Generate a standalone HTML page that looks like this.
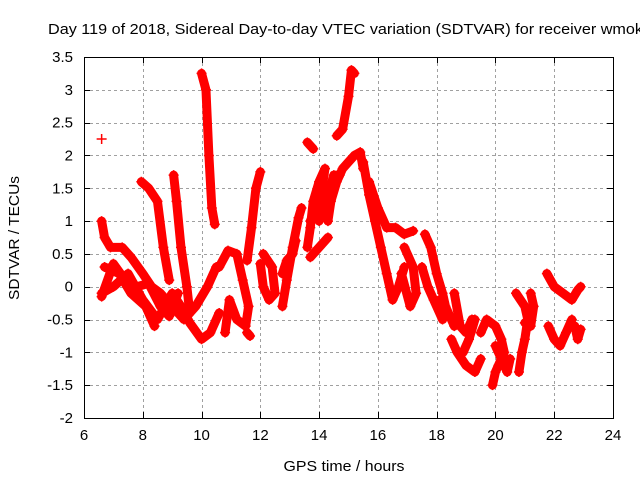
<!DOCTYPE html>
<html><head><meta charset="utf-8">
<style>
html,body{margin:0;padding:0;background:#fff;}
svg{display:block;font-family:"Liberation Sans",sans-serif;}
</style></head>
<body>
<svg id="chart" width="640" height="480" viewBox="0 0 640 480" xmlns="http://www.w3.org/2000/svg">
<rect x="0" y="0" width="640" height="480" fill="#fff"/>
<g id="grid"></g>
<g id="ticks"></g>
<g id="marks"></g>
<rect x="84.5" y="57.5" width="529" height="361" fill="none" stroke="#000" stroke-width="1"/>
<text x="48" y="34" font-size="15" textLength="595" lengthAdjust="spacingAndGlyphs" fill="#000">Day 119 of 2018, Sidereal Day-to-day VTEC variation (SDTVAR) for receiver wmok</text>
<text x="344" y="471" font-size="15" textLength="121" lengthAdjust="spacingAndGlyphs" text-anchor="middle">GPS time / hours</text>
<text x="19" y="238" font-size="15" textLength="124" lengthAdjust="spacingAndGlyphs" text-anchor="middle" transform="rotate(-90 19 238)">SDTVAR / TECUs</text>
</svg>
<script>
const xTicks=[6,8,10,12,14,16,18,20,22,24];
const yTicks=[-2,-1.5,-1,-0.5,0,0.5,1,1.5,2,2.5,3,3.5];
const yTickLabels=["-2","-1.5","-1","-0.5","0","0.5","1","1.5","2","2.5","3","3.5"];
const outlier=[[6.6,2.25]];
const track1=[[7.95,1.6],[8.2,1.5],[8.5,1.3],[8.7,0.6],[8.9,0.1]];
const track2=[[9.05,1.7],[9.15,1.3],[9.3,0.6],[9.5,0],[9.6,-0.4]];
const track3=[[10.0,3.25],[10.15,3.0],[10.25,2.0],[10.35,1.2],[10.45,0.95]];
const track4=[[11.55,0.4],[11.7,0.9],[11.85,1.5],[12.0,1.75]];
const track5=[[6.6,1.0],[6.7,0.75],[6.9,0.6],[7.3,0.6],[7.6,0.45],[8.0,0.2],[8.3,0.0],[8.6,-0.1],[9.0,-0.3],[9.4,-0.5],[9.8,-0.3],[10.2,0.0],[10.5,0.3]];
const track6=[[6.6,-0.1],[7.0,0],[7.5,0.2],[8.0,-0.2],[8.5,-0.5],[9.0,-0.1],[9.3,-0.3],[9.6,-0.55],[10.0,-0.8],[10.3,-0.7],[10.6,-0.4]];
const track7=[[6.7,0.3],[7.2,0.2],[7.6,-0.1],[8.1,-0.3],[8.4,-0.6]];
const track7b=[[6.6,-0.15],[7.0,0.35],[7.4,0.1],[7.8,0.0],[8.2,0.05],[8.6,-0.3],[8.9,-0.45],[9.2,-0.1]];
const track8=[[10.6,0.3],[10.9,0.55],[11.2,0.5],[11.4,0.1],[11.6,-0.3],[11.5,-0.6],[11.2,-0.5],[10.95,-0.2],[10.8,-0.7]];
const track9=[[11.55,-0.7],[11.65,-0.75]];
const track10=[[12.1,0.5],[12.4,0.3],[12.5,-0.1],[12.3,-0.2],[12.1,0.0],[12.0,0.35]];
const track11=[[12.75,-0.3],[12.9,0.1],[13.1,0.6],[13.3,1.05],[13.4,1.2]];
const track12=[[12.75,0.2],[12.9,0.4],[13.1,0.5],[13.2,0.7]];
const track13=[[13.6,0.6],[13.7,0.9],[13.8,1.3],[14.0,1.6],[14.2,1.8],[14.1,1.5],[13.9,1.2],[13.7,1.0]];
const track14=[[13.6,2.2],[13.8,2.1]];
const track15=[[13.7,0.45],[14.0,0.6],[14.3,0.75]];
const track16=[[14.3,1.0],[14.4,1.3],[14.6,1.6],[14.8,1.8],[15.0,1.9],[15.2,2.0],[15.4,2.05],[15.5,1.8]];
const track17=[[14.0,1.0],[14.3,1.4],[14.5,1.7],[14.7,1.7]];
const track18=[[14.6,2.3],[14.8,2.4],[15.0,2.9],[15.1,3.3],[15.2,3.25]];
const track19=[[15.5,1.9],[15.7,1.4],[15.9,1.0],[16.1,0.6],[16.3,0.2],[16.5,-0.2],[16.7,0.0],[16.9,0.3]];
const track20=[[15.7,1.6],[16.0,1.2],[16.3,0.9],[16.6,0.9],[16.9,0.8],[17.2,0.85]];
const track21=[[16.9,0.6],[17.2,0.3],[17.3,-0.1],[17.1,-0.3],[16.8,0.2]];
const track22=[[17.6,0.8],[17.8,0.6],[18.0,0.2],[18.2,-0.1],[18.3,-0.3],[18.5,-0.5],[18.6,-0.6]];
const track23=[[17.5,0.3],[17.7,0.0],[17.9,-0.2],[18.2,-0.5],[18.1,-0.2]];
const track24=[[18.6,-0.1],[18.8,-0.6],[19.0,-0.7],[19.2,-0.5],[19.3,-0.5],[19.1,-0.8],[18.9,-1.0]];
const track25=[[18.5,-0.8],[18.7,-1.0],[19.0,-1.2],[19.3,-1.3],[19.5,-1.1]];
const track26=[[19.5,-0.7],[19.7,-0.5],[20.0,-0.6],[20.2,-0.8],[20.3,-1.0],[20.1,-1.2],[20.0,-1.3],[19.9,-1.5]];
const track27=[[20.0,-0.9],[20.2,-1.1],[20.4,-1.3],[20.5,-1.1]];
const track28=[[20.7,-0.1],[21.0,-0.3],[21.1,-0.5],[21.0,-0.8],[20.9,-1.0],[20.8,-1.3]];
const track29=[[21.2,-0.1],[21.3,-0.3],[21.2,-0.6],[21.0,-0.55]];
const track30=[[21.75,0.2],[22.0,0.0],[22.3,-0.1],[22.6,-0.2],[22.8,-0.05],[22.9,0.0]];
const track31=[[21.8,-0.6],[22.0,-0.8],[22.2,-0.9],[22.4,-0.7],[22.6,-0.5]];
const track32=[[22.7,-0.6],[22.8,-0.8],[22.9,-0.65]];
const tracks=[outlier,track1,track2,track3,track4,track5,track6,track7,track7b,track8,track9,track10,track11,track12,track13,track14,track15,track16,track17,track18,track19,track20,track21,track22,track23,track24,track25,track26,track27,track28,track29,track30,track31,track32];

const X0=84,X1=613,Y0=418,Y1=57,XMIN=6,XMAX=24,YMIN=-2,YMAX=3.5;
function xs(t){return X0+(t-XMIN)/(XMAX-XMIN)*(X1-X0);}
function ys(v){return Y0-(v-YMIN)/(YMAX-YMIN)*(Y0-Y1);}
const NS="http://www.w3.org/2000/svg";
function mk(tag,attrs,parent){const e=document.createElementNS(NS,tag);for(const k in attrs)e.setAttribute(k,attrs[k]);parent.appendChild(e);return e;}
const grid=document.getElementById('grid'),ticks=document.getElementById('ticks'),marks=document.getElementById('marks');
xTicks.forEach(t=>{
  const x=Math.round(xs(t))+0.5;
  if(t>XMIN&&t<XMAX){
    const g=mk('line',{x1:x,x2:x,y1:Y1,y2:Y0,stroke:'#a0a0a0','stroke-dasharray':'3,3'},grid);
    
    
  }
  const tk=mk('path',{d:`M${x} ${Y0}v-6M${x} ${Y1}v6`,stroke:'#000'},ticks);
  
  
  const lb=mk('text',{x:xs(t),y:Y0+22,'font-size':15,'text-anchor':'middle'},ticks);
  lb.textContent=String(t);
  
  
});
yTicks.forEach((v,i)=>{
  const y=Math.round(ys(v))+0.5;
  if(v>YMIN&&v<YMAX){
    const g=mk('line',{x1:X0,x2:X1,y1:y,y2:y,stroke:'#a0a0a0','stroke-dasharray':'3,3'},grid);
    
    
  }
  const tk=mk('path',{d:`M${X0} ${y}h6M${X1} ${y}h-6`,stroke:'#000'},ticks);
  
  
  const lb=mk('text',{x:X0-11,y:ys(v)+5,'font-size':15,'text-anchor':'end'},ticks);
  lb.textContent=yTickLabels[i];
  
  
});
tracks.forEach(tr=>{
  if(tr.length>1){
    const pl=mk('polyline',{points:tr.map(p=>xs(p[0])+','+ys(p[1])).join(' '),fill:'none',stroke:'#ff0000','stroke-width':9,'stroke-linejoin':'round','stroke-linecap':'round'},marks);
    
    
  }
  tr.forEach(p=>{
    const x=xs(p[0]),y=ys(p[1]);
    const m=mk('path',{d:`M${x-5} ${y}h10M${x} ${y-5}v10`,stroke:'#ff0000','stroke-width':1.5},marks);
    
    
  });
});
</script>
</body></html>
